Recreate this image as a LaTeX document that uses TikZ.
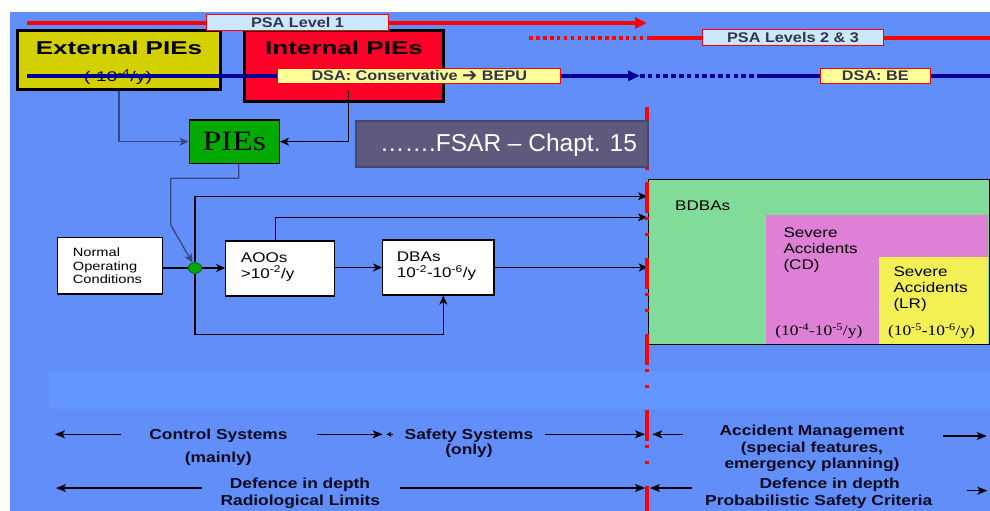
\documentclass[tikz,border=0pt]{standalone}
\usepackage{fontspec}
\setmainfont{Liberation Sans}
\newfontfamily\labfont{Liberation Sans}[FakeStretch=1.16]
\newfontfamily\ttlfont{Liberation Sans}[FakeStretch=1.4]
\newfontfamily\ndfont{Liberation Sans}[FakeStretch=1.22]
\newfontfamily\btfont{Liberation Sans}[FakeStretch=1.2]
\newfontfamily\serwide{Liberation Serif}[FakeStretch=1.2]
\newfontfamily\symfont{DejaVu Sans}
\usetikzlibrary{arrows.meta,shapes.geometric}
\definecolor{bgblue}{RGB}{98,142,249}
\definecolor{bandblue}{RGB}{100,150,255}
\definecolor{extfill}{RGB}{212,208,0}
\definecolor{intfill}{RGB}{255,0,40}
\definecolor{lblue}{RGB}{204,232,255}
\definecolor{lyellow}{RGB}{255,255,153}
\definecolor{labtext}{RGB}{51,51,77}
\definecolor{piegreen}{RGB}{0,170,0}
\definecolor{fsarfill}{RGB}{94,90,125}
\definecolor{fsarborder}{RGB}{74,72,100}
\definecolor{bdbagreen}{RGB}{128,220,152}
\definecolor{sacd}{RGB}{222,128,214}
\definecolor{salr}{RGB}{242,240,85}
\definecolor{dotborder}{RGB}{0,100,0}
\definecolor{linegray}{RGB}{55,70,125}
\definecolor{navy}{RGB}{0,0,150}
\definecolor{bottext}{RGB}{10,10,30}
\begin{document}
\begin{tikzpicture}[x=1pt,y=-1pt,
  conn/.style={line width=1.1pt, draw=black},
  gconn/.style={line width=1.3pt, draw=linegray},
  tipa/.style={-{Stealth[length=9pt,width=8pt,inset=2.5pt]}},
  barr/.style={line width=1.1pt, draw=black, -{Stealth[length=10pt,width=8pt,inset=2.5pt]}},
  whitebox/.style={draw=black, line width=1.2pt, fill=white, inner sep=0pt},
  lab/.style={draw=red, line width=0.9pt, inner sep=0pt, text=labtext, font=\labfont\bfseries\fontsize{14}{14}\selectfont},
  bigbox/.style={draw=black, line width=3pt, inner sep=0pt},
  ttl/.style={font=\ttlfont\bfseries\fontsize{18.6}{20}\selectfont, text=black, inner sep=0pt},
  ntext/.style={font=\ndfont\fontsize{14}{16}\selectfont, text=black, inner sep=0pt, align=left},
  btext/.style={font=\btfont\bfseries\fontsize{14.5}{16.5}\selectfont, text=bottext, inner sep=0pt, align=center},
  rate/.style={font=\serwide\fontsize{14.5}{14.5}\selectfont, text=black, inner sep=0pt},
  psaline/.style={draw=red, line width=4pt},
  dsaline/.style={draw=navy, line width=3.6pt},
  ]
\useasboundingbox (0,0) rectangle (990,511);
\fill[white] (0,0) rectangle (990,511);
\fill[bgblue] (10,12) rectangle (990,511);
\fill[bandblue] (49,371) rectangle (990,409);

% PIE boxes
\node[bigbox, fill=extfill, minimum width=203pt, minimum height=58pt] (ext) at (119,60) {};
\node[ttl] (extT) at (119,48.3) {External PIEs};
\node[font=\ttlfont\fontsize{14}{14}\selectfont, inner sep=0pt] (extS) at (118,77) {( 10\textsuperscript{-4}/y)};
\node[bigbox, fill=intfill, minimum width=199pt, minimum height=71pt] (int) at (344.3,66.3) {};
\node[ttl] (intT) at (344,48.3) {Internal PIEs};

% PSA level 1
\coordinate (p1s) at (27,23);
\coordinate (p1e) at (647,23);
\draw[psaline, -{Triangle[length=12pt,width=11pt]}] (p1s) -- (p1e);
\node[lab, fill=lblue, minimum width=181.7pt, minimum height=15.7pt] (psa1) at (297.5,22.8) {PSA Level 1};

% PSA levels 2 & 3
\coordinate (p2s) at (529.3,38);
\coordinate (p2m) at (647,38);
\coordinate (p2e) at (990,38);
\draw[psaline, dash pattern=on 3.5pt off 3.4pt] (p2s) -- (p2m);
\draw[psaline] (p2m) -- (p2e);
\node[lab, fill=lblue, minimum width=181.4pt, minimum height=15.7pt] (psa23) at (793,37.8) {PSA Levels 2 \& 3};

% DSA lines
\coordinate (d1s) at (27,75.8);
\node[lab, fill=lyellow, minimum width=283pt, minimum height=15pt] (dsa1) at (419.3,75.8) {DSA: Conservative \raisebox{-0.5pt}{\scalebox{1.3}{\symfont\bfseries ➔}} BEPU};
\draw[dsaline] (d1s) -- (dsa1.west);
\coordinate (d1e) at (640,75.8);
\draw[dsaline, -{Triangle[length=12pt,width=10pt]}] (dsa1.east) -- (d1e);
\coordinate (d2s) at (757,75.8);
\draw[dsaline, dash pattern=on 4.5pt off 3.3pt] (d1e) -- (d2s);
\node[lab, fill=lyellow, minimum width=110.7pt, minimum height=15pt] (dsabe) at (875.3,75.8) {DSA: BE};
\draw[dsaline] (d2s) -- (dsabe.west);
\coordinate (d2e) at (990,75.8);
\draw[dsaline] (dsabe.east) -- (d2e);

% red vertical line (top part)
\coordinate (v0) at (647,107);
\coordinate (v1) at (647,170);
\draw[red, line width=3.5pt] (v0) -- (v1);

% PIEs and FSAR
\node[draw=black, line width=1.5pt, fill=piegreen, minimum width=90pt, minimum height=43.3pt, inner sep=0pt, font=\serwide\fontsize{28}{28}\selectfont] (pies) at (234.3,141.7) {PIEs};
\node[draw=fsarborder, line width=2pt, fill=fsarfill, minimum width=291.7pt, minimum height=46pt, inner sep=0pt] (fsar) at (501.8,143.7) {};
\node[text=white, font=\fontsize{24.5}{24.5}\selectfont, inner sep=0pt] (fsarT) at (508.5,145) {…….FSAR – Chapt. 15};

\draw[gconn, tipa] (ext.south) |- (pies.west);
\coordinate (intout) at (348.7,91);
\draw[conn, tipa] (intout) |- (pies.east);

% process boxes
\node[whitebox, minimum width=104.6pt, minimum height=56.3pt] (noc) at (110,265.8) {};
\node[ntext, anchor=west, font=\ndfont\fontsize{12}{13.4}\selectfont] (nocT) at (72.7,266) {Normal\\Operating\\Conditions};
\node[ellipse, draw=dotborder, line width=0.8pt, fill=piegreen, minimum width=13.4pt, minimum height=10.6pt, inner sep=0pt] (dot) at (195,268) {};
\node[whitebox, minimum width=108.6pt, minimum height=55pt] (aoo) at (280,268.5) {};
\node[ntext, anchor=west] (aooT) at (240.7,266.7) {AOOs\\>10\textsuperscript{-2}/y};
\node[whitebox, minimum width=111.3pt, minimum height=55pt] (dba) at (438.3,267.5) {};
\node[ntext, anchor=west] (dbaT) at (396.7,266) {DBAs\\10\textsuperscript{-2}-10\textsuperscript{-6}/y};

% BDBA region
\node[draw=black, line width=1.2pt, fill=bdbagreen, minimum width=341pt, minimum height=165pt, inner sep=0pt] (bdba) at (818.8,261.8) {};
\node[fill=sacd, minimum width=221.3pt, minimum height=128.3pt, inner sep=0pt, anchor=north west] (cd) at (766,215) {};
\node[fill=salr, minimum width=109pt, minimum height=86.6pt, inner sep=0pt, anchor=north west] (lr) at (878.3,256.7) {};
\node[ntext, anchor=west] (bdbaT) at (675,205.7) {BDBAs};
\node[ntext, anchor=west] (cdT) at (783.3,250) {Severe\\Accidents\\(CD)};
\node[ntext, anchor=west] (lrT) at (893.3,289.3) {Severe\\Accidents\\(LR)};
\node[rate] (cdR) at (818.8,331) {(10\textsuperscript{-4}-10\textsuperscript{-5}/y)};
\node[rate] (lrR) at (931.5,331) {(10\textsuperscript{-5}-10\textsuperscript{-6}/y)};

% connectors
\coordinate (k2) at (170.7,178.3);
\coordinate (k3) at (170.7,225);
\draw[gconn, tipa] ([xshift=4.4pt]pies.south) |- (k2) -- (k3) -- (dot.115);
\draw[conn] (dot.west -| noc.east) -- (dot.west);
\draw[conn, tipa] (dot.east) -- (dot.east -| aoo.west);
\draw[conn, tipa] (aoo.east |- dba.west) -- (dba.west);
\draw[conn, tipa] (dba.east) -- (dba.east -| bdba.west);
\coordinate (t1) at (647,196.3);
\draw[conn, tipa] (dot.north) |- (t1);
\coordinate (t2) at (647,217.3);
\draw[conn, tipa] ([xshift=-4.3pt]aoo.north) |- (t2);
\coordinate (b1) at (443.3,334.3);
\draw[conn, tipa] (dot.south) |- (b1) -- (b1 |- dba.south);

% red vertical dash-dot line
\coordinate (v2) at (647,181.7);
\coordinate (v3) at (647,511);
\draw[red, line width=3.5pt, dash pattern=on 31pt off 4pt on 3pt off 13pt on 3pt off 22pt] (v2) -- (v3);

% bottom texts
\node[btext] (cs1) at (218.5,435.7) {Control Systems};
\node[btext] (cs2) at (218.2,459) {(mainly)};
\node[btext] (ss1) at (469,435.7) {Safety Systems};
\node[btext] (ss2) at (469,451) {(only)};
\node[btext, font=\btfont\bfseries\fontsize{14.5}{16.6}\selectfont] (am) at (812,448.5) {Accident Management\\(special features,\\emergency planning)};
\node[btext] (did1) at (300,484.3) {Defence in depth};
\node[btext] (rl) at (300.3,501.7) {Radiological Limits};
\node[btext] (did2) at (829.7,484.3) {Defence in depth};
\node[btext] (psc) at (818.8,501.7) {Probabilistic Safety Criteria};

% bottom arrows row 1
\coordinate (a1s) at (120.7,434.3); \coordinate (a1e) at (55,434.3);
\draw[barr] (a1s) -- (a1e);
\coordinate (a2s) at (317.3,434.3); \coordinate (a2e) at (382.7,434.3);
\draw[barr] (a2s) -- (a2e);
\coordinate (a3s) at (393,434.3); \coordinate (a3e) at (386.5,434.3);
\draw[line width=0.6pt, -{Stealth[length=5pt,width=5pt]}] (a3s) -- (a3e);
\coordinate (a4s) at (545,434.3); \coordinate (a4e) at (645,434.3);
\draw[barr] (a4s) -- (a4e);
\coordinate (a5s) at (682.7,434.3); \coordinate (a5e) at (652.3,434.3);
\draw[barr] (a5s) -- (a5e);
\coordinate (a6s) at (942.7,436); \coordinate (a6e) at (986.7,436);
\draw[barr] (a6s) -- (a6e);
% bottom arrows row 2
\coordinate (b2s) at (201.7,488); \coordinate (b2e) at (56,488);
\draw[barr] (b2s) -- (b2e);
\coordinate (b3s) at (400,488); \coordinate (b3e) at (645,488);
\draw[barr] (b3s) -- (b3e);
\coordinate (b4s) at (692.3,488); \coordinate (b4e) at (650,488);
\draw[barr] (b4s) -- (b4e);
\coordinate (b5s) at (966.7,490.7); \coordinate (b5e) at (987.3,490.7);
\draw[barr] (b5s) -- (b5e);
\end{tikzpicture}
\end{document}
